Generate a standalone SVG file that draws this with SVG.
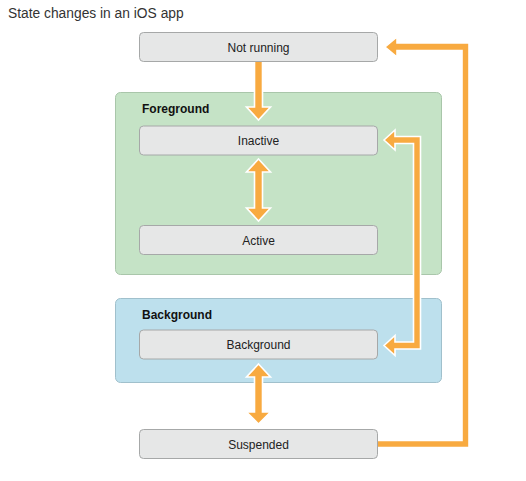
<svg xmlns="http://www.w3.org/2000/svg" width="526" height="481" viewBox="0 0 526 481">
<style>
.title{font-family:"Liberation Sans",Arial,sans-serif;font-size:13.8px;fill:#333}
.grp{stroke-width:1}
.glabel{font-family:"Liberation Sans",Arial,sans-serif;font-size:12px;font-weight:bold;fill:#111}
.state rect{fill:#e6e7e7;stroke:#a6a8a8;stroke-width:1}
.state text{font-family:"Liberation Sans",Arial,sans-serif;font-size:12px;fill:#222;text-anchor:middle}
.arrow{fill:#f8aa40;stroke:#fff;stroke-width:1.6;stroke-linejoin:miter}
</style>
<rect width="526" height="481" fill="#fff"/>
<text class="title" x="8" y="17.5">State changes in an iOS app</text>
<g id="foreground-group">
<rect class="grp" x="115.5" y="92.5" width="326" height="182" rx="5" fill="#c5e3c6" stroke="#a9c6aa"/>
<text class="glabel" x="142" y="113">Foreground</text>
</g>
<g id="background-group">
<rect class="grp" x="115.5" y="298.5" width="326" height="84" rx="5" fill="#bde0ed" stroke="#a0c0cc"/>
<text class="glabel" x="142" y="319">Background</text>
</g>
<g id="connectors">
<polygon class="arrow" points="254.5,58 262.5,58 262.5,107 270.5,107 258.5,120 246.5,107 254.5,107"/>
<polygon class="arrow" points="258.5,159 270.5,172 262.5,172 262.5,208 270.5,208 258.5,221 246.5,208 254.5,208 254.5,172 246.5,172"/>
<polygon class="arrow" points="258.5,364 270.5,377 262.5,377 262.5,412 270.5,412 258.5,424 246.5,412 254.5,412 254.5,377 246.5,377"/>
<polygon class="arrow" points="384,140 395,130 395,136.5 420.5,136.5 420.5,349 395,349 395,355.5 384,345.5 395,335.5 395,342 413.5,342 413.5,143.5 395,143.5 395,150"/>
<polygon class="arrow" points="385,47 397,37 397,43 469,43 469,447.5 374,447.5 374,440.5 462,440.5 462,50.5 397,50.5 397,57"/>
</g>
<g id="not-running" class="state">
<rect x="139.5" y="32.5" width="238" height="29" rx="4"/>
<text x="258.5" y="51.5">Not running</text>
</g>
<g id="inactive" class="state">
<rect x="139.5" y="126" width="238" height="29" rx="4"/>
<text x="258.5" y="145">Inactive</text>
</g>
<g id="active" class="state">
<rect x="139.5" y="225.5" width="238" height="29" rx="4"/>
<text x="258.5" y="244.5">Active</text>
</g>
<g id="background" class="state">
<rect x="139.5" y="330" width="238" height="29" rx="4"/>
<text x="258.5" y="349">Background</text>
</g>
<g id="suspended" class="state">
<rect x="139.5" y="429.5" width="238" height="29" rx="4"/>
<text x="258.5" y="448.5">Suspended</text>
</g>
</svg>
